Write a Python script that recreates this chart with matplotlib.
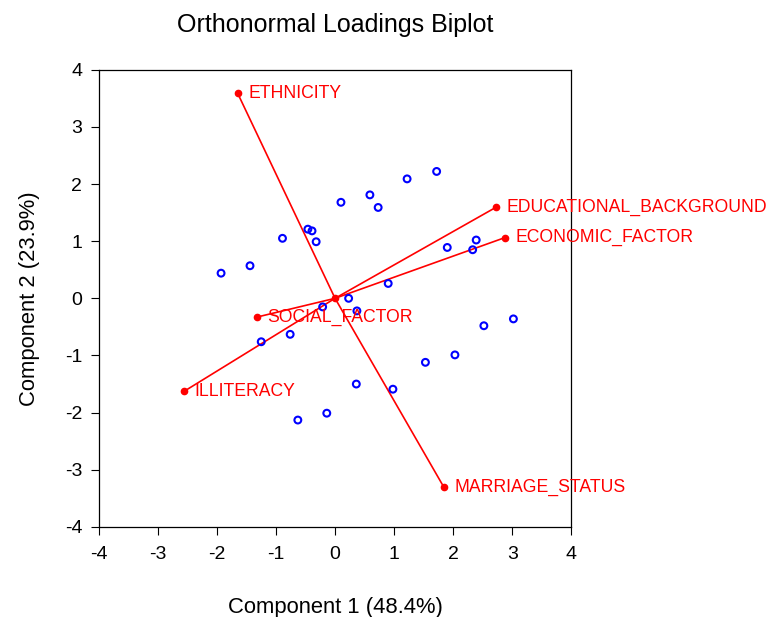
import matplotlib
matplotlib.use("Agg")
import matplotlib.pyplot as plt

plt.rcParams['font.family'] = ['Liberation Sans', 'DejaVu Sans']
plt.rcParams['axes.unicode_minus'] = False

# observation scores
score_x = [-1.93, -1.44, -0.89, -0.46, -0.39, -0.32, 0.10, 0.59, 0.73, 1.22,
           1.72, 1.90, 2.39, 2.33, 0.90, 0.23, -0.21, 0.37, -0.76, -1.25,
           0.36, -0.14, -0.63, 0.98, 1.53, 2.03, 2.52, 3.02]
score_y = [0.44, 0.57, 1.05, 1.21, 1.18, 0.99, 1.68, 1.81, 1.59, 2.09,
           2.22, 0.89, 1.02, 0.85, 0.26, 0.00, -0.15, -0.22, -0.63, -0.76,
           -1.50, -2.01, -2.13, -1.59, -1.12, -0.99, -0.48, -0.36]

# variable loadings
var_names = ["ETHNICITY", "EDUCATIONAL_BACKGROUND", "ECONOMIC_FACTOR",
             "SOCIAL_FACTOR", "ILLITERACY", "MARRIAGE_STATUS"]
load_x = [-1.65, 2.72, 2.87, -1.33, -2.56, 1.84]
load_y = [3.59, 1.59, 1.06, -0.33, -1.63, -3.30]

fig = plt.figure(figsize=(7.72, 6.17), dpi=100)
ax = fig.add_axes([0.128, 0.146, 0.612, 0.741])

ax.scatter(score_x, score_y, s=24, facecolors='none', edgecolors='#0000ff',
           linewidths=1.5, zorder=3)

for name, lx, ly in zip(var_names, load_x, load_y):
    ax.plot([0, lx], [0, ly], color='red', lw=1.2, zorder=2)
    ax.plot(lx, ly, 'o', color='red', ms=4.5, zorder=4)
    ax.text(lx + 0.18, ly, name, color='red', fontsize=12.7,
            ha='left', va='center')
ax.plot(0, 0, 'o', color='red', ms=4.5, zorder=4)

ax.set_xlim(-4, 4)
ax.set_ylim(-4, 4)
ax.set_xticks(range(-4, 5))
ax.set_yticks(range(-4, 5))
ax.tick_params(direction='out', length=6, width=0.8, labelsize=14, pad=6)
ax.tick_params(axis='x', pad=8)
for s in ax.spines.values():
    s.set_linewidth(0.9)

ax.set_xlabel("Component 1 (48.4%)", fontsize=15.8, labelpad=24)
ax.set_ylabel("Component 2 (23.9%)", fontsize=15.8, labelpad=18)
ax.set_title("Orthonormal Loadings Biplot", fontsize=18, pad=27)

fig.savefig("out.png", dpi=100)
